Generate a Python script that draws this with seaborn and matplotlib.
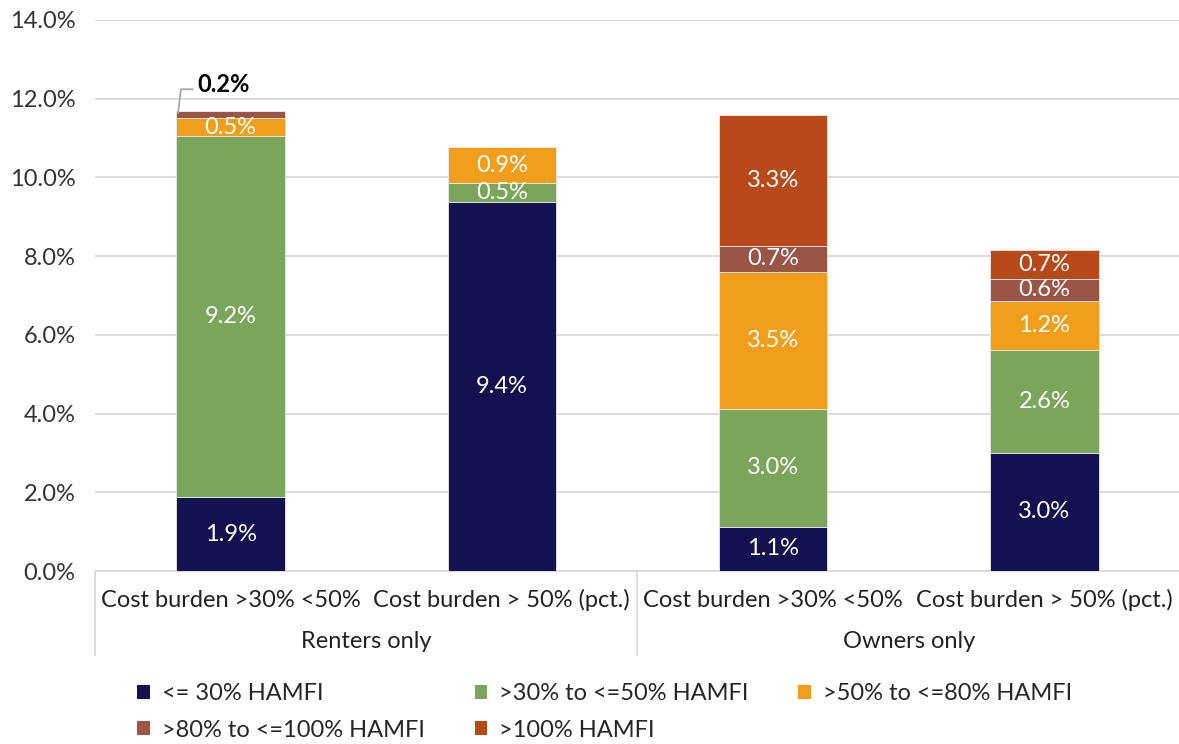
import numpy as np
import pandas as pd
import matplotlib
matplotlib.use("Agg")
import matplotlib.pyplot as plt
import matplotlib.transforms as mtransforms
from matplotlib.patches import Patch
import seaborn as sns

# ---------------- data ----------------
keys = ["R1", "R2", "O1", "O2"]
tick_labels = ["Cost burden >30% <50%", "Cost burden > 50% (pct.)",
               "Cost burden >30% <50%", "Cost burden > 50% (pct.)"]
groups = ["Renters only", "Owners only"]
series_names = ["<= 30% HAMFI", ">30% to <=50% HAMFI", ">50% to <=80% HAMFI",
                ">80% to <=100% HAMFI", ">100% HAMFI"]
le30 = [1.88, 9.38, 1.12, 3.00]
p30_50 = [9.16, 0.48, 3.00, 2.61]
p50_80 = [0.47, 0.91, 3.48, 1.24]
p80_100 = [0.17, 0.0, 0.66, 0.58]
gt100 = [0.0, 0.0, 3.33, 0.73]
yticks = [0, 2, 4, 6, 8, 10, 12, 14]

colors = ["#13114F", "#7BA55A", "#F09E1C", "#9A5546", "#B74A18"]
FONT = "Lato"
FS = 17

sns.set_theme(style="white")
plt.rcParams["font.family"] = [FONT, "DejaVu Sans"]

fig = plt.figure(figsize=(11.79, 7.44), dpi=100)
ax = fig.add_axes([95/1179, 1-571/744, (1180-95)/1179, 551/744])

BAR_W = 0.4
series = [le30, p30_50, p50_80, p80_100, gt100]
bottom = np.zeros(len(keys))
for vals, col, name in zip(series, colors, series_names):
    df = pd.DataFrame({"cat": keys, "val": vals})
    sns.barplot(data=df, x="cat", y="val", order=keys, color=col, width=BAR_W,
                bottom=bottom, ax=ax, saturation=1, edgecolor="#e8e8e8",
                linewidth=0.6, zorder=3)
    for i, v in enumerate(vals):
        if v <= 0:
            continue
        if i == 0 and name == ">80% to <=100% HAMFI":
            continue
        ax.text(i, bottom[i] + v/2, f"{v:.1f}%", ha="center", va="center",
                color="white", fontsize=FS, zorder=5)
    bottom = bottom + np.array(vals)

# outside label for renters 0.2% with leader line
top0 = le30[0] + p30_50[0] + p50_80[0] + p80_100[0]
x0 = -BAR_W/2 + 0.006
ax.plot([x0, x0 + 0.011, x0 + 0.055], [top0 - 0.05, top0 + 0.56, top0 + 0.56],
        color="#a6a6a6", lw=1.3, zorder=4, clip_on=False)
ax.text(x0 + 0.07, top0 + 0.68, f"{p80_100[0]:.1f}%", ha="left", va="center",
        fontsize=FS, color="black", fontweight="bold", zorder=5)

ax.set_ylim(0, 14)
ax.set_xlim(-0.5, 3.5)
ax.set_yticks(yticks)
ax.set_yticklabels([f"{t:.1f}%" for t in yticks], fontsize=FS, color="#333333")
ax.yaxis.grid(True, color="#d9d9d9", linewidth=1.3, zorder=0)
ax.set_axisbelow(True)
ax.tick_params(axis="y", length=0, pad=14)
ax.set_xticks(range(len(keys)))
ax.set_xticklabels(tick_labels, fontsize=FS, color="#222222")
for t in ax.get_xticklabels():
    t.set_va("baseline")
ax.tick_params(axis="x", length=0, pad=26)
ax.set_xlabel("")
ax.set_ylabel("")
for s in ["top", "right", "left"]:
    ax.spines[s].set_visible(False)
ax.spines["bottom"].set_color("#d9d9d9")
ax.spines["bottom"].set_linewidth(1.3)

trans = mtransforms.blended_transform_factory(ax.transData, ax.transAxes)
for xs in [-0.5, 1.5, 3.5]:
    ax.plot([xs, xs], [0, -(655-571)/551], transform=trans, color="#d9d9d9",
            lw=1.3, clip_on=False)
for gi, g in enumerate(groups):
    ax.text(0.5 + 2*gi, -(641-571)/551, g, transform=trans, ha="center",
            va="center", fontsize=FS, color="#222222")

handles = [Patch(facecolor=c, edgecolor="none") for c in colors]
order = [0, 3, 1, 4, 2]
fig.legend([handles[i] for i in order], [series_names[i] for i in order],
           ncol=3, loc="lower left", bbox_to_anchor=(116/1179, -0.024),
           frameon=False, fontsize=FS, handlelength=0.55, handleheight=0.55,
           handletextpad=0.5, columnspacing=2.1, labelspacing=0.64)

fig.savefig("out.png", dpi=100)
